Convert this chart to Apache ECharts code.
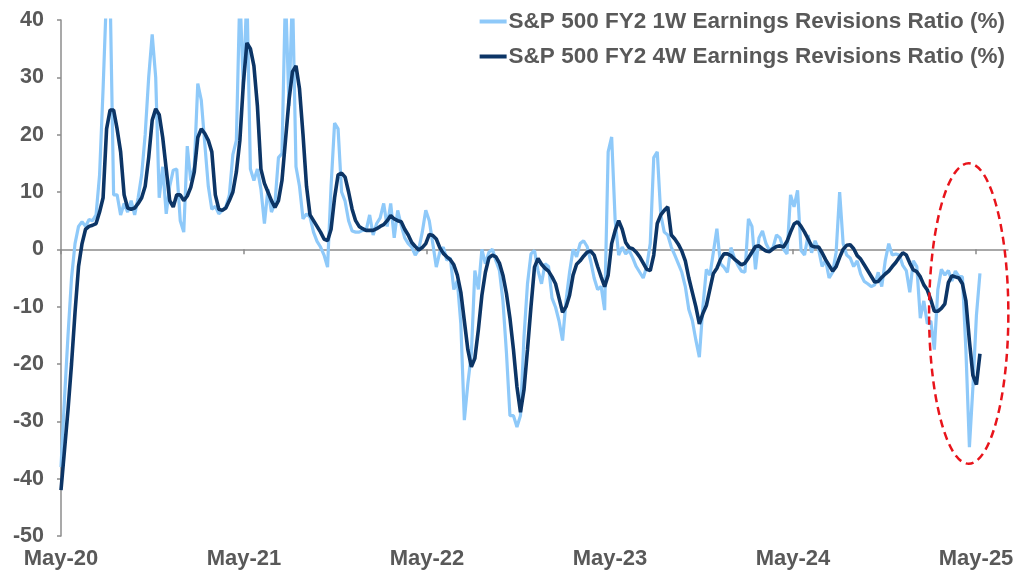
<!DOCTYPE html>
<html>
<head>
<meta charset="utf-8">
<title>S&P 500 FY2 Earnings Revisions Ratio</title>
<script src="https://cdn.jsdelivr.net/npm/echarts/dist/echarts.min.js"></script>
<style>
    html, body { margin: 0; padding: 0; background: #fff; }
    #main { width: 1024px; height: 584px; }
</style>
</head>
<body>
<div id="main"></div>
<script>
// weekly readings, first point = first week of May 2020
var oneWeek = [
    -38, -26, -15, -5, 1, 4, 4.8, 4, 5.2, 5,
    6, 13, 28, 45, 45, 9.5, 9.5, 6, 8, 6.5,
    8.5, 6, 9, 13, 20, 30, 37.5, 30, 9, 14.4,
    6.2, 11, 13.8, 14, 5, 3, 18, 12, 14.4, 28.9,
    26, 18.4, 11, 7, 7.5, 6.2, 6.8, 7.4, 9.5, 16.5,
    19, 45, 28, 45, 14, 12, 14, 10.5, 4.5, 10.5,
    6.5, 8, 16, 16.7, 45, 25, 45, 14.4, 11, 5.3,
    6.2, 5.6, 3, 1.4, 0.4, -1, -3.1, 11, 22, 21,
    10, 8.4, 5, 3.2, 3, 3, 3.3, 3.3, 6, 2.5,
    4.5, 5.5, 8, 4, 8, 2, 6.8, 4.2, 2, 1,
    0.4, -1, 0, 3, 6.8, 5, 1, -3.1, -0.5, 0.4,
    -1.9, -1.5, -7, -5.5, -13, -29.8, -23.4, -18.2, -3.7, -7,
    0, -2.5, -0.5, 0, -2, -3.7, -9, -18, -29, -29,
    -31, -29, -15.3, -6, -0.8, -0.2, -3.7, -6, -2.5, -3,
    -8.5, -10.1, -12.5, -15.9, -8.9, -4, 0, -1.3, 1, 1.5,
    0.5, -2, -5, -7, -6.5, -10.6, 17, 19.6, 5, -1,
    0.4, -0.8, -0.2, -1.5, -3, -4, -5, -3, 1, 16,
    17, 6, 3, 2.5, 0.4, -1, -2.5, -4, -6.5, -10.5,
    -12.4, -15.8, -18.8, -10.1, -3.5, -4.5, -0.5, 3.6, -2.5, -3.1,
    -4, 0.3, -1.5, -2.8, -3.8, -4, 5.3, 4, -3.5, 2,
    3.2, 1, -0.2, 0.3, 2.5, 2, 0, -0.8, 9.5, 7.4,
    10.3, -0.2, -1, 2.5, -0.6, 1.5, 0, -3, -1.9, -5,
    -4, -0.5, 10, 1, -1, -1.5, -3, -2, -4.3, -5.6,
    -6, -6.5, -6.2, -4, -6.5, -2, 1, -1, -0.8, -1,
    -2.8, -3.7, -7.5, -2, -3, -12, -9, -13, -12.5, -17.5,
    -7, -3.5, -4.5, -3.7, -5.5, -3.8, -4.7, -4.8, -17.6, -34.5,
    -24, -11.5, -4.2
];
var fourWeek = [
    -42, -35, -28, -20, -11, -3, 1, 3.5, 4, 4.2,
    4.5, 6.5, 9, 21, 24.3, 24.3, 21, 17, 9.5, 7.2,
    7, 7.2, 8, 9, 11, 16, 22.5, 24.5, 23.5, 19.5,
    14, 8.5, 7.4, 9.5, 9.5, 8.5, 9.3, 10.8, 13.5, 19.5,
    21, 20.2, 19, 17, 9.5, 7, 6.8, 7.2, 8.5, 10,
    13.5, 19, 29, 36, 35, 32, 25, 14, 11.5, 10,
    8.5, 7.3, 8.5, 12, 19, 26, 31, 32, 28, 20,
    11, 6, 5, 4, 3, 1.8, 1.5, 3.5, 9, 13,
    13.3, 12.6, 10, 7, 5, 4, 3.6, 3.3, 3.3, 3.3,
    3.6, 4, 4.3, 5, 5.9, 5.3, 5, 4.8, 3.5, 2.5,
    1.2, 0.5, -0.1, 0.3, 1, 2.6, 2.4, 1.8, 0.3, -0.7,
    -1.3, -1.8, -2.7, -4.5, -7.5, -12.5, -17.5, -20.5, -19, -14,
    -8, -4, -1.5, -1, -1.3, -2.4, -4.5, -7.7, -12, -17.5,
    -24, -28.4, -24.5, -17.5, -10, -3.1, -1.6, -2.6, -3.3, -3.8,
    -4.8, -6, -8.5, -11, -10, -8, -4.5, -2.6, -2, -1.2,
    -0.5, -0.3, -1, -3, -4.8, -6.5, -4.5, 1, 3.3, 5,
    3.5, 1.2, 0.3, 0.1, -0.5, -1.3, -2.4, -3.5, -3.7, -1,
    4.5, 6, 6.8, 7.4, 2.5, 1.8, 0.9, -0.3, -2, -5,
    -7.5, -10, -13, -11.2, -9.8, -7, -4.2, -3.3, -1.8, -0.8,
    -0.8, -1.1, -1.7, -2.2, -2.7, -2.4, -1.5, -0.5, 0.5, 0.6,
    0.1, -0.3, -0.4, 0.1, 0.5, 0.6, 0.4, 1.4, 3, 4.4,
    4.8, 4, 3, 1.8, 0.6, 0.4, 0.4, -0.6, -1.8, -2.8,
    -3.8, -3, -1.4, 0, 0.7, 0.8, 0.1, -1.1, -1.7, -2.7,
    -3.7, -4.7, -5.7, -5.6, -4.9, -4.3, -3.8, -3, -2.3, -1.4,
    -0.6, -1, -2.4, -3.6, -3.9, -4.8, -6.2, -7.1, -8.8, -10.8,
    -10.8, -10.3, -9.5, -5.8, -4.6, -4.8, -5, -6, -9, -16,
    -22, -23.6, -18.2
];
var yearLabels = ['May-20', 'May-21', 'May-22', 'May-23', 'May-24', 'May-25'];
var seriesNames = [
    'S&P 500 FY2 1W Earnings Revisions Ratio (%)',
    'S&P 500 FY2 4W Earnings Revisions Ratio (%)'
];

var WEEKS_PER_YEAR = 365.25 / 7;
var textColor = '#595959';
var axisColor = '#8c8c8c';
var font = '"Liberation Sans", Arial, sans-serif';

var yearTicks = yearLabels.map(function (l, i) { return i * WEEKS_PER_YEAR; });

var toPoints = function (arr) {
    return arr.map(function (v, i) { return [i, v]; });
};

var myChart = echarts.init(document.getElementById('main'));
var option = {
    animation: false,
    textStyle: { fontFamily: font },
    grid: { left: 61, right: 16, top: 20, bottom: 48 },
    legend: {
        orient: 'vertical',
        right: 19,
        top: 10,
        itemGap: 12,
        itemWidth: 27,
        itemHeight: 4,
        icon: 'rect',
        padding: 0,
        textStyle: { color: textColor, fontSize: 22.5, fontWeight: 'bold', fontFamily: font, padding: [0, 0, 0, -3] },
        data: seriesNames
    },
    xAxis: [{
        type: 'value',
        min: 0,
        max: 270,
        axisLine: { onZero: true, lineStyle: { color: axisColor, width: 1.5 } },
        axisTick: { show: true, length: 5, customValues: yearTicks, lineStyle: { color: axisColor, width: 1.5 } },
        axisLabel: { show: false },
        splitLine: { show: false }
    }, {
        type: 'value',
        min: 0,
        max: 270,
        position: 'bottom',
        axisLine: { show: false, onZero: false },
        axisTick: { show: false },
        splitLine: { show: false },
        axisLabel: {
            margin: 12,
            customValues: yearTicks,
            color: textColor,
            fontSize: 22,
            fontWeight: 'bold',
            fontFamily: font,
            formatter: function (v) {
                return yearLabels[Math.round(v / WEEKS_PER_YEAR)] || '';
            }
        }
    }],
    yAxis: {
        type: 'value',
        min: -50,
        max: 40,
        interval: 10,
        axisLine: { show: true, lineStyle: { color: axisColor, width: 1.5 } },
        axisTick: { show: true, length: 4, lineStyle: { color: axisColor, width: 1.5 } },
        axisLabel: { color: textColor, fontSize: 21.5, fontWeight: 'bold', fontFamily: font, margin: 17 },
        splitLine: { show: false }
    },
    series: [{
        name: seriesNames[0],
        type: 'line',
        symbol: 'none',
        color: '#8EC9F9',
        lineStyle: { width: 3.2, color: '#8EC9F9' },
        clip: true,
        z: 2,
        data: toPoints(oneWeek)
    }, {
        name: seriesNames[1],
        type: 'line',
        symbol: 'none',
        color: '#0C3566',
        lineStyle: { width: 3.6, color: '#0C3566' },
        clip: true,
        z: 3,
        data: toPoints(fourWeek)
    }]
};
myChart.setOption(option);

// red dashed ellipse around the latest drop, anchored in data units
var c = myChart.convertToPixel({ gridIndex: 0 }, [258.8, -11.2]);
var edge = myChart.convertToPixel({ gridIndex: 0 }, [258.8 + 11.3, -11.2 + 26.2]);
myChart.setOption({
    graphic: [{
        type: 'ellipse',
        z: 10,
        shape: { cx: c[0], cy: c[1], rx: edge[0] - c[0], ry: c[1] - edge[1] },
        style: { fill: 'none', stroke: '#E8141B', lineWidth: 2.5, lineDash: [8, 5] }
    }]
});
</script>
</body>
</html>
